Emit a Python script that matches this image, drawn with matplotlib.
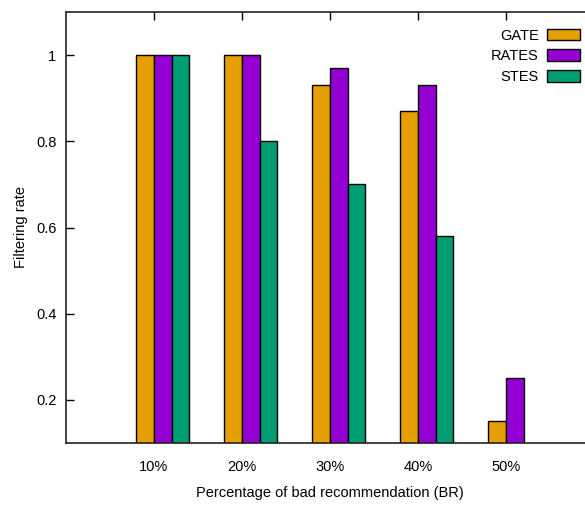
import matplotlib

matplotlib.use("Agg")

import matplotlib.pyplot as plt
import numpy as np
from matplotlib.patches import Patch

plt.rcParams["font.family"] = ["Liberation Sans", "DejaVu Sans"]

CATEGORIES = ["10%", "20%", "30%", "40%", "50%"]
SERIES = ["GATE", "RATES", "STES"]
GATE = [1.0, 1.0, 0.93, 0.87, 0.15]
RATES = [1.0, 1.0, 0.97, 0.93, 0.25]
STES = [1.0, 0.8, 0.7, 0.58, np.nan]
COLORS = ["#e69f00", "#9400d3", "#009e73"]
Y_TICKS = [0.2, 0.4, 0.6, 0.8, 1.0]
Y_TICK_LABELS = ["0.2", "0.4", "0.6", "0.8", "1"]


def main():
    fig = plt.figure(figsize=(5.85, 5.09), dpi=100)
    ax = fig.add_axes([66 / 585, 1 - 443 / 509, 528 / 585, 431 / 509])

    x = np.arange(1, len(CATEGORIES) + 1)
    width = 0.2
    for i, (values, color) in enumerate(zip([GATE, RATES, STES], COLORS)):
        ax.bar(x + (i - 0.5) * width, values, width=width, color=color,
               edgecolor="black", linewidth=1.0, zorder=2)

    ax.set_xlim(0, 6)
    ax.set_ylim(0.1, 1.1)
    ax.set_xticks(x)
    ax.set_xticklabels(CATEGORIES, fontsize=10.5)
    ax.set_yticks(Y_TICKS)
    ax.set_yticklabels(Y_TICK_LABELS, fontsize=10.5)
    ax.tick_params(direction="in", length=6, width=1, top=True, right=True,
                   colors="black")
    ax.tick_params(axis="x", pad=12)
    ax.tick_params(axis="y", pad=7)

    for side in ["left", "top", "bottom", "right"]:
        ax.spines[side].set_linewidth(1.2)
        ax.spines[side].set_color("#222222")

    ax.set_xlabel("Percentage of bad recommendation (BR)", fontsize=10.5)
    ax.xaxis.set_label_coords(0.5, -0.1)
    ax.set_ylabel("Filtering rate", fontsize=10.5)
    ax.yaxis.set_label_coords(-0.072, 0.5)

    handles = [Patch(facecolor=c, edgecolor="black", linewidth=1.0) for c in COLORS]
    ax.legend(handles, SERIES, loc="upper right", bbox_to_anchor=(0.992, 0.985),
              frameon=False, fontsize=10.5, markerfirst=False,
              handlelength=2.2, handleheight=0.85, labelspacing=0.45,
              handletextpad=0.6, borderaxespad=0.3)

    fig.savefig("out.png", dpi=100)
    plt.close(fig)


if __name__ == "__main__":
    main()
